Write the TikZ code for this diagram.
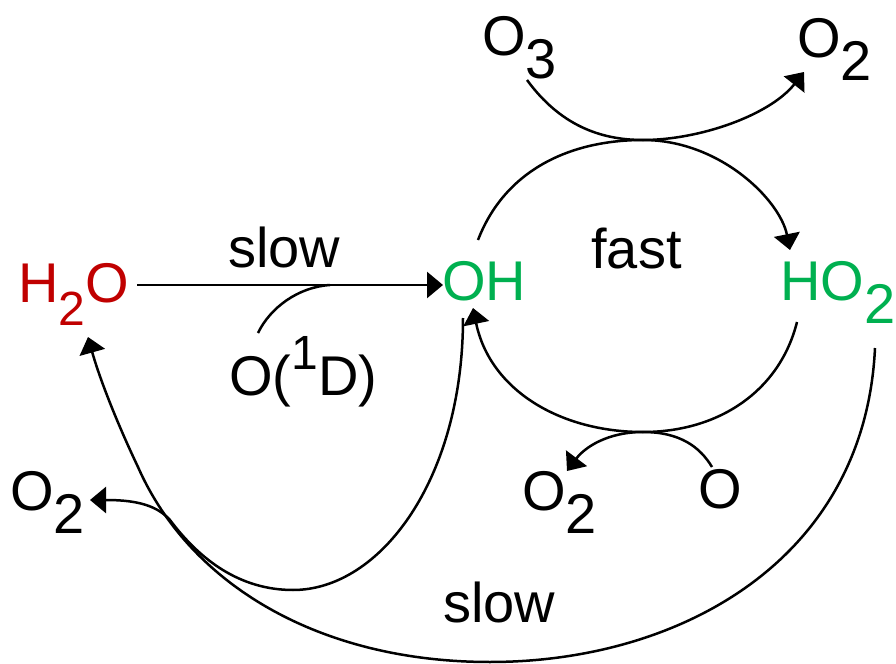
\documentclass[tikz,border=0pt]{standalone}
\usepackage{fontspec}
\setmainfont{Liberation Sans}
\usetikzlibrary{arrows.meta}
\definecolor{h2ored}{RGB}{192,0,0}
\definecolor{hoxgreen}{RGB}{0,176,80}
\newcommand{\lowsub}[1]{\raisebox{-0.42em}{#1}}
\newcommand{\highsup}[1]{\raisebox{0.45em}{\fontsize{24}{28}\selectfont #1}}
\begin{document}
\begin{tikzpicture}[x=0.5pt,y=-0.5pt,
  lbl/.style={anchor=base west, inner sep=0pt, font=\fontsize{28}{34}\selectfont},
  conn/.style={line width=1.25pt},
  tip/.style={-{Triangle[length=8pt,width=13pt]}}]
\useasboundingbox (0,0) rectangle (896,664);

% species
\node[lbl, text=h2ored] (h2o) at (18,302) {H\lowsub{\fontsize{24}{28}\selectfont 2}O};
\node[lbl, text=hoxgreen] (oh) at (442,300) {OH};
\node[lbl, text=hoxgreen] (ho2) at (780,300) {HO\lowsub{2}};
\node[lbl] (o3) at (482,55) {O\lowsub{3}};
\node[lbl] (o2top) at (797,57) {O\lowsub{2}};
\node[lbl] (o1d) at (229,395) {O(\highsup{1}D)};
\node[lbl] (o2bot) at (522,510) {O\lowsub{2}};
\node[lbl] (obot) at (698,508) {O};
\node[lbl] (o2left) at (10,510) {O\lowsub{2}};
\node[lbl] (slowtop) at (228,267) {slow};
\node[lbl] (fast) at (591,268) {fast};
\node[lbl] (slowbot) at (443,622) {slow};

% connector end points
\coordinate (h2oR) at (137,285);
\coordinate (ohL) at (443,285);
\coordinate (o1dT) at (258,333);
\coordinate (mergeA) at (330,285);
\coordinate (ohT) at (478,240);
\coordinate (cycT) at (643,140);
\coordinate (ho2T) at (790,250);
\coordinate (ho2B) at (797,322);
\coordinate (cycB) at (643,432);
\coordinate (ohB) at (473,308);
\coordinate (o3B) at (527,80);
\coordinate (o2topT) at (804,72);
\coordinate (obotT) at (712,467);
\coordinate (o2botT) at (567,471);
\coordinate (ohBL) at (463,318);
\coordinate (loopB) at (293,590);
\coordinate (bundle) at (170,520);
\coordinate (o2leftR) at (90,500);
\coordinate (ho2R) at (875,348);
\coordinate (bigB) at (490,662);
\coordinate (bigL) at (138,467);
\coordinate (h2oB) at (88,337);

% H2O -> OH
\draw[conn,tip] (h2oR) -- (ohL);
\draw[conn] (o1dT) .. controls (270,308) and (298,287) .. (mergeA);

% fast cycle
\draw[conn] (ohT) .. controls (505,170) and (570,140) .. (cycT);
\draw[conn,tip] (cycT) .. controls (720,140) and (780,200) .. (ho2T);
\draw[conn] (ho2B) .. controls (780,390) and (720,432) .. (cycB);
\draw[conn,tip] (cycB) .. controls (560,432) and (490,390) .. (ohB);

% O3 -> O2
\draw[conn,tip] (o3B) .. controls (560,125) and (600,140) .. (cycT)
  .. controls (700,140) and (770,115) .. (o2topT);
% O -> O2
\draw[conn,tip] (obotT) .. controls (700,447) and (680,432) .. (cycB)
  .. controls (608,432) and (585,447) .. (o2botT);

% OH -> O2 (left)
\draw[conn,tip] (ohBL) .. controls (463,480) and (380,590) .. (loopB)
  .. controls (240,590) and (200,560) .. (bundle)
  .. controls (155,503) and (130,500) .. (o2leftR);

% HO2 -> H2O
\draw[conn,tip] (ho2R) .. controls (865,560) and (680,662) .. (bigB)
  .. controls (320,662) and (190,585) .. (bigL)
  .. controls (118,425) and (100,380) .. (h2oB);
\end{tikzpicture}
\end{document}
